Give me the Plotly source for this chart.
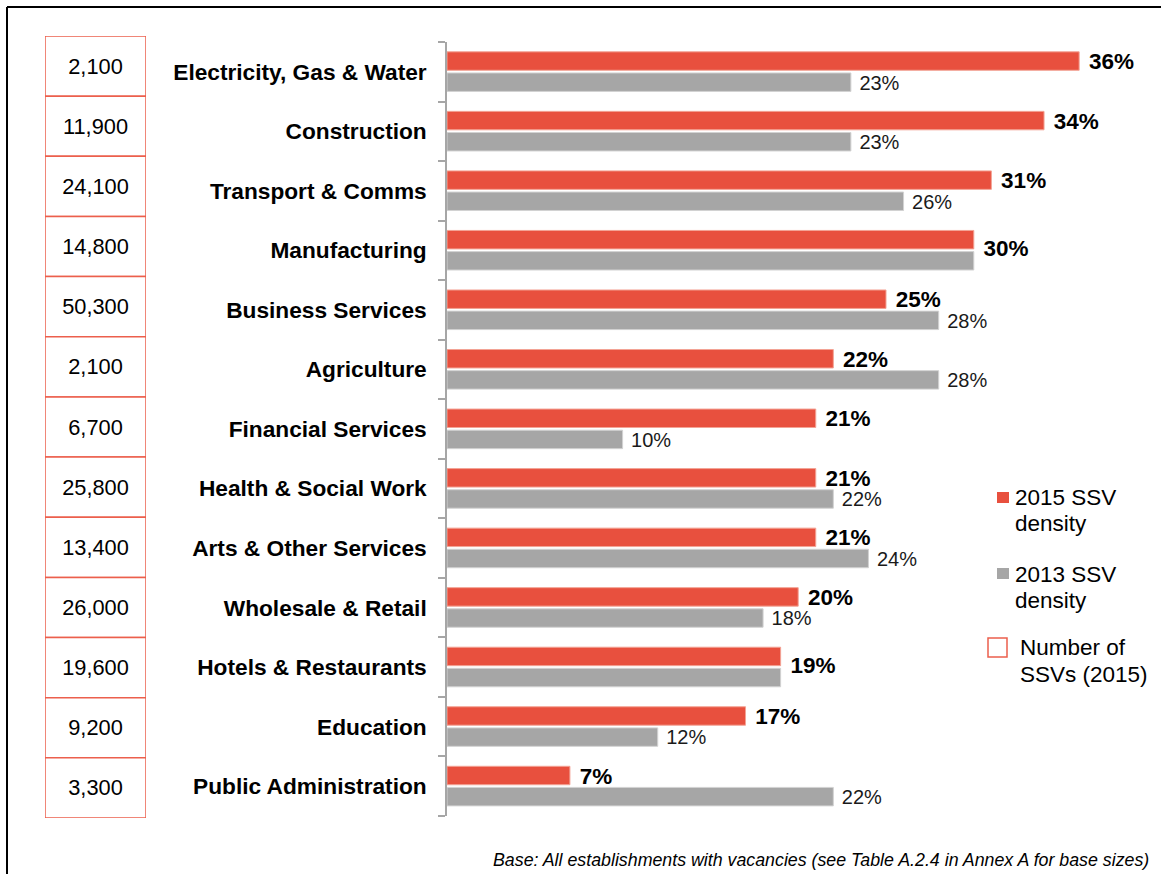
import plotly.graph_objects as go

# Sectors, top to bottom
sectors = [
    "Electricity, Gas & Water", "Construction", "Transport & Comms",
    "Manufacturing", "Business Services", "Agriculture", "Financial Services",
    "Health & Social Work", "Arts & Other Services", "Wholesale & Retail",
    "Hotels & Restaurants", "Education", "Public Administration",
]
density_2015 = [36, 34, 31, 30, 25, 22, 21, 21, 21, 20, 19, 17, 7]
density_2013 = [23, 23, 26, 30, 28, 28, 10, 22, 24, 18, 19, 12, 22]
ssv_counts = ["2,100", "11,900", "24,100", "14,800", "50,300", "2,100", "6,700",
              "25,800", "13,400", "26,000", "19,600", "9,200", "3,300"]

W, H = 1161, 874
RED = "#E8503E"
GREY = "#A6A6A6"
FONT = "Liberation Sans, Arial, sans-serif"


def px(x):
    return x / W


def py(y):
    return 1 - y / H


pos = list(range(len(sectors)))
BAR_W = 0.31

fig = go.Figure()

# 2015 bars (upper bar of each pair)
fig.add_trace(go.Bar(
    y=pos, x=density_2015, orientation="h", width=BAR_W, offset=-0.335,
    marker=dict(color=RED, line=dict(color="#F3A395", width=1)),
    hoverinfo="skip", showlegend=False,
))
# 2013 bars (lower bar of each pair)
fig.add_trace(go.Bar(
    y=pos, x=density_2013, orientation="h", width=BAR_W, offset=0.02,
    marker=dict(color=GREY, line=dict(color="#D2D2D2", width=1)),
    hoverinfo="skip", showlegend=False,
))

# Value labels; when both years match a single label sits between the bars
red_y, grey_y, grey_txt = [], [], []
for i, (a, b) in enumerate(zip(density_2015, density_2013)):
    if a == b:
        red_y.append(i)
        grey_txt.append("")
    else:
        red_y.append(i - 0.14)
        grey_txt.append(f"{b}%")
    grey_y.append(i + 0.215)

# invisible markers keep the labels a few pixels clear of the bar ends
fig.add_trace(go.Scatter(
    x=density_2015, y=red_y, mode="markers+text",
    marker=dict(size=14, opacity=0),
    text=[f"<b>{v}%</b>" for v in density_2015], textposition="middle right",
    textfont=dict(family=FONT, size=22.5, color="black"),
    cliponaxis=False, hoverinfo="skip", showlegend=False,
))
fig.add_trace(go.Scatter(
    x=density_2013, y=grey_y, mode="markers+text",
    marker=dict(size=12, opacity=0),
    text=grey_txt, textposition="middle right",
    textfont=dict(family=FONT, size=20, color="#1A1A1A"),
    cliponaxis=False, hoverinfo="skip", showlegend=False,
))

# Column of boxes with the number of SSVs
fig.add_trace(go.Bar(
    y=pos, x=[1] * len(pos), base=0, orientation="h", width=1,
    marker=dict(color="white", line=dict(color="#EC5F4C", width=1.5)),
    text=ssv_counts, textposition="inside", insidetextanchor="middle",
    textfont=dict(family=FONT, size=21.8, color="black"), constraintext="none",
    xaxis="x2", yaxis="y2", hoverinfo="skip", showlegend=False,
))

fig.update_layout(
    width=W, height=H, autosize=False,
    margin=dict(l=0, r=0, t=0, b=0),
    paper_bgcolor="white", plot_bgcolor="white",
    barmode="overlay",
    font=dict(family=FONT, color="black"),
    xaxis=dict(
        domain=[px(447), px(1149.4)], range=[0, 40],
        showgrid=False, zeroline=False, showticklabels=False, showline=False,
    ),
    yaxis=dict(
        domain=[py(816), py(42)], range=[12.5, -0.5],
        tickmode="array", tickvals=pos, ticktext=[f"<b>{s}</b>" for s in sectors],
        ticks="", tickfont=dict(family=FONT, size=22.7, color="black"),
        ticklabelstandoff=14,
        minor=dict(tickmode="array", tickvals=[p - 0.5 for p in pos] + [12.5],
                   ticks="outside", ticklen=7, tickcolor=GREY, tickwidth=1.5),
        showline=True, linecolor=GREY, linewidth=1.5,
        showgrid=False, zeroline=False,
    ),
    xaxis2=dict(
        domain=[px(45), px(146)], range=[0, 1], anchor="y2",
        visible=False,
    ),
    yaxis2=dict(
        domain=[py(818), py(36)], range=[12.5, -0.5], anchor="x2",
        visible=False,
    ),
)

# Frame lines along the top and left edges
fig.add_shape(type="line", xref="paper", yref="paper",
              x0=px(7), x1=1, y0=py(7), y1=py(7), line=dict(color="black", width=2))
fig.add_shape(type="line", xref="paper", yref="paper",
              x0=px(7), x1=px(7), y0=py(7), y1=0, line=dict(color="black", width=2))

# Key
fig.add_shape(type="rect", xref="paper", yref="paper",
              x0=px(997), x1=px(1009), y0=py(503), y1=py(492),
              fillcolor=RED, line=dict(width=0))
fig.add_shape(type="rect", xref="paper", yref="paper",
              x0=px(997), x1=px(1009), y0=py(579), y1=py(568),
              fillcolor=GREY, line=dict(width=0))
fig.add_shape(type="rect", xref="paper", yref="paper",
              x0=px(988), x1=px(1007), y0=py(657), y1=py(638),
              fillcolor="white", line=dict(color="#EC5F4C", width=1.5))

key_lines = [
    ("2015 SSV", 1013, 497), ("density", 1013, 523),
    ("2013 SSV", 1013, 574), ("density", 1013, 600),
    ("Number of", 1018, 647), ("SSVs (2015)", 1018, 674),
]
for txt, x, y in key_lines:
    fig.add_annotation(text=txt, xref="paper", yref="paper", x=px(x), y=py(y),
                       xanchor="left", yanchor="middle", showarrow=False,
                       font=dict(family=FONT, size=22.5, color="black"))

fig.add_annotation(
    text="<i>Base: All establishments with vacancies (see Table A.2.4 in Annex A for base sizes)</i>",
    xref="paper", yref="paper", x=px(1151), y=py(860), xanchor="right", yanchor="middle",
    showarrow=False, font=dict(family=FONT, size=17.8, color="black"),
)

fig.write_html("out.html")
